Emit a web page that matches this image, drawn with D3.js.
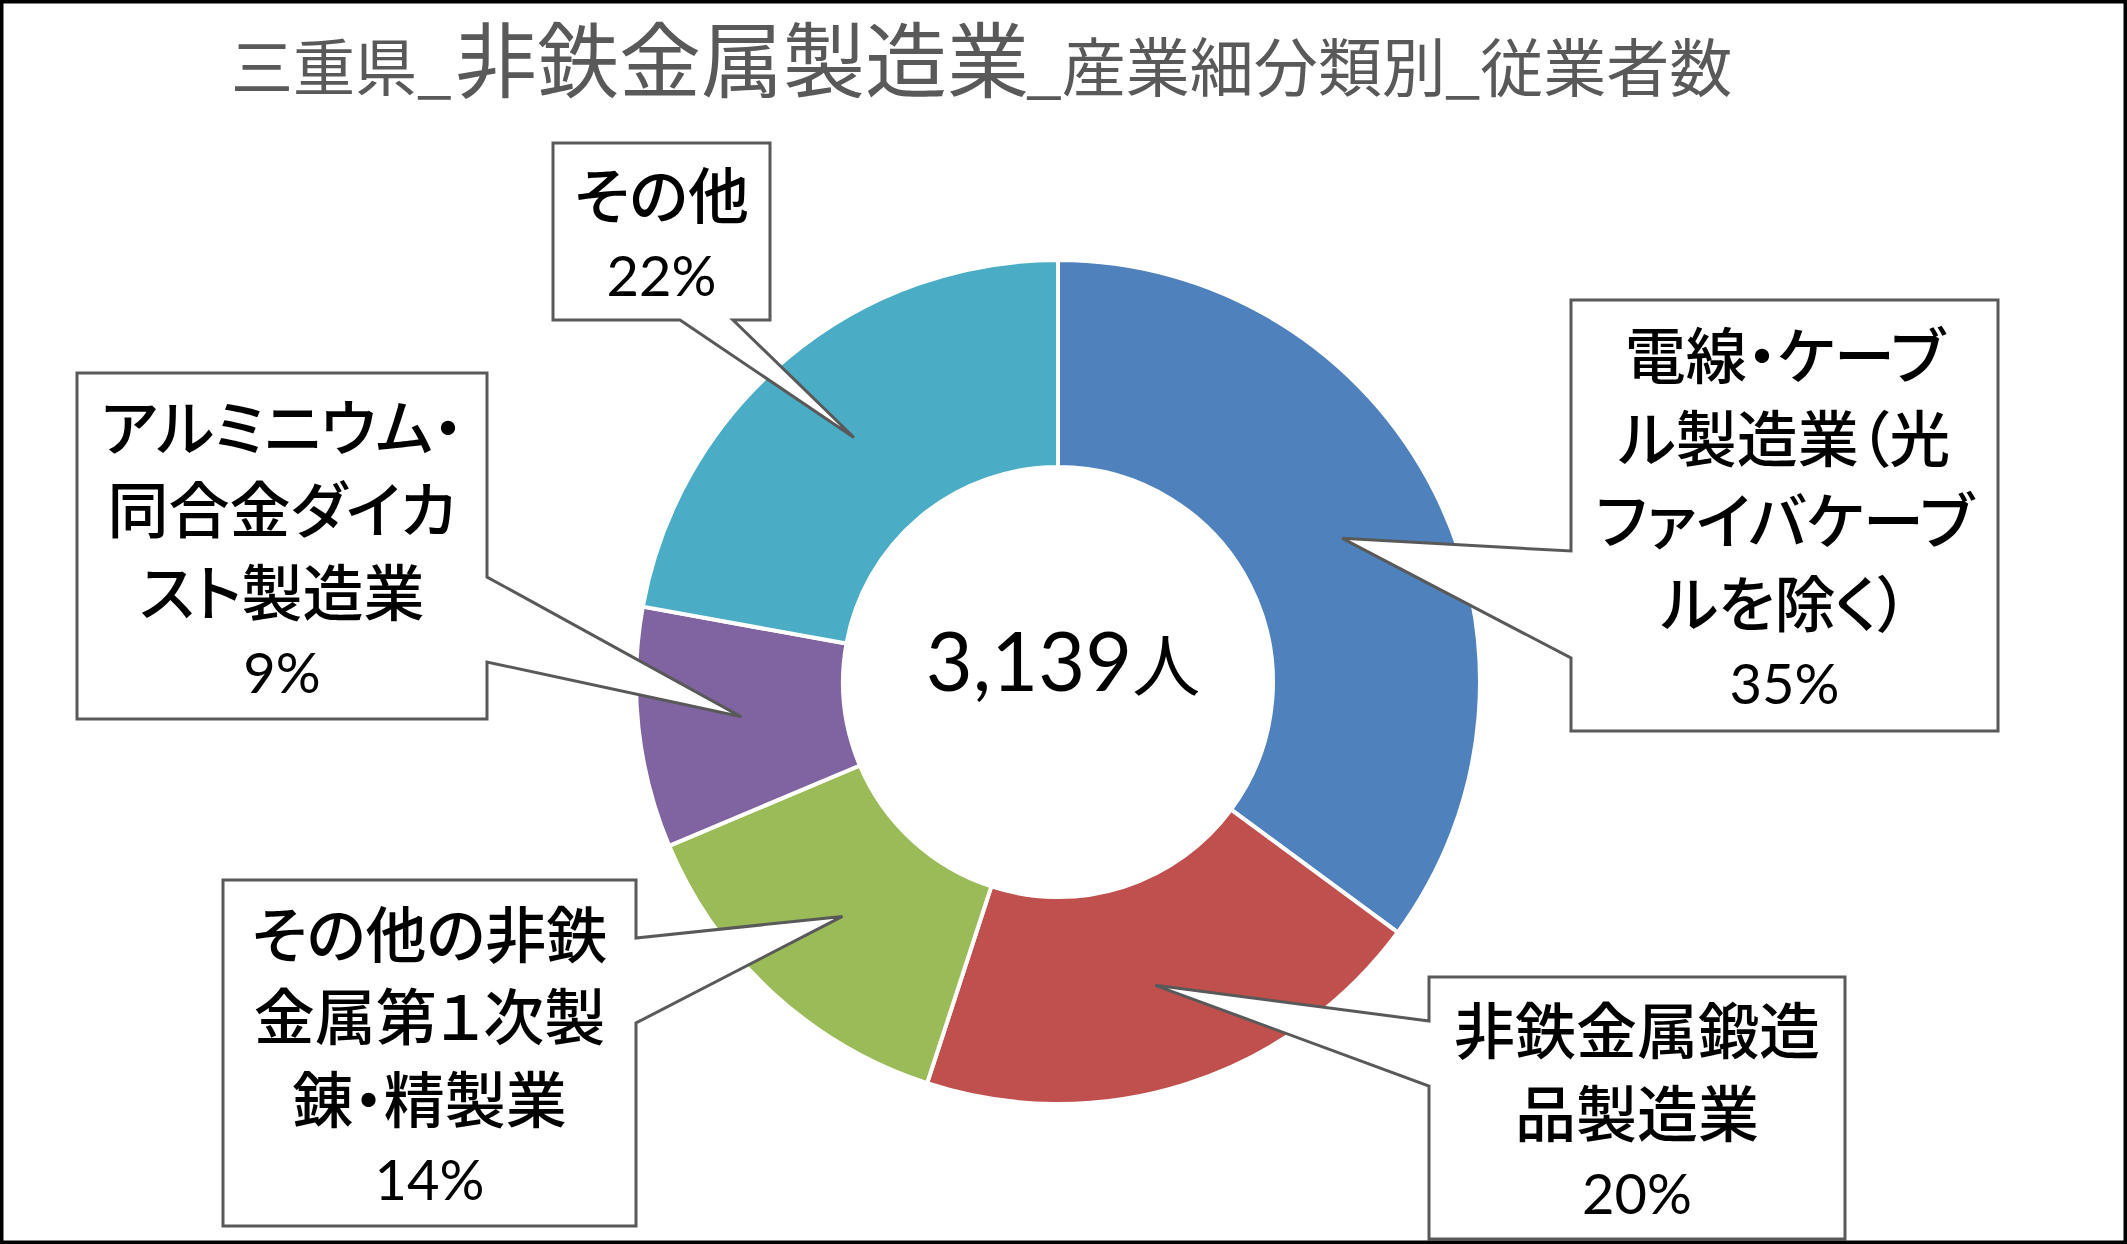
<!DOCTYPE html>
<html><head><meta charset="utf-8">
<script src="https://cdn.jsdelivr.net/npm/d3@7"></script>
<style>
html,body{margin:0;padding:0;background:#fff;}
svg{display:block;}
.jp{font-family:'Noto Sans CJK JP','Noto Sans CJK SC',sans-serif;font-feature-settings:"palt";}
.num{font-family:Lato,'Noto Sans CJK JP',sans-serif;}
</style>
</head><body>
<script>
// ---- data ----
const titleParts = ["三重県_", "非鉄金属製造業", "_産業細分類別", "_従業者数"];
const categories = [
  "電線・ケーブル製造業（光ファイバケーブルを除く）",
  "非鉄金属鍛造品製造業",
  "その他の非鉄金属第１次製錬・精製業",
  "アルミニウム・同合金ダイカスト製造業",
  "その他"
];
const labelLines = [
  ["電線・ケーブ", "ル製造業（光", "ファイバケーブ", "ルを除く）"],
  ["非鉄金属鍛造", "品製造業"],
  ["その他の非鉄", "金属第１次製", "錬・精製業"],
  ["アルミニウム・", "同合金ダイカ", "スト製造業"],
  ["その他"]
];
const values = [1102, 625, 428, 289, 695];
const colors = ["#4F81BD", "#C0504D", "#9BBB59", "#8064A2", "#4BACC6"];
const unit = "人";

// ---- layout (not data) ----
const W = 2127, H = 1244;
const cx = 1058, cy = 682, R = 422, r0 = 215;
const boxes = [
  {rect:[1571,300,1998,731], edge:"left",   base:[551,658]},
  {rect:[1429,977,1845,1239], edge:"left",  base:[1021,1086]},
  {rect:[223,880,636,1226],  edge:"right",  base:[938,1023]},
  {rect:[77,373,487,719],    edge:"right",  base:[577,662]},
  {rect:[553,143,770,320],   edge:"bottom", base:[680,733]}
];
const lineGap = 82.5;

const svg = d3.select("body").append("svg").attr("width", W).attr("height", H);
svg.append("rect").attr("width", W).attr("height", H).attr("fill", "#fff");

// title
const titleX = [231, 455, 1026, 1445];
const titleSize = [62, 82, 64, 63];
titleParts.forEach((t, i) => {
  svg.append("text").attr("class", "jp")
    .attr("x", titleX[i]).attr("y", 91)
    .attr("font-size", titleSize[i]).attr("fill", "#595959")
    .text(t);
});

// donut
const total = d3.sum(values);
const pie = d3.pie().sort(null).value(d => d).startAngle(0).endAngle(2 * Math.PI);
const arcs = pie(values);
const arc = d3.arc().innerRadius(r0).outerRadius(R);
const g = svg.append("g").attr("transform", `translate(${cx},${cy})`);
g.selectAll("path.slice").data(arcs).join("path")
  .attr("class", "slice")
  .attr("d", arc)
  .attr("fill", (d, i) => colors[i])
  .attr("stroke", "#fff").attr("stroke-width", 4).attr("stroke-linejoin", "round");

// center total
const fmt = d3.format(",");
const ct = svg.append("text").attr("x", cx + 5).attr("y", 691).attr("text-anchor", "middle");
ct.append("tspan").attr("class", "num").attr("font-size", 81).text(fmt(total));
ct.append("tspan").attr("class", "jp").attr("font-size", 68).text(unit);

// callouts
arcs.forEach((d, i) => {
  const b = boxes[i];
  const [x0, y0, x1, y1] = b.rect;
  const c = arc.centroid(d);
  const tip = [cx + c[0], cy + c[1]];
  let p;
  if (b.edge === "left") {
    p = [[x0, y0], [x1, y0], [x1, y1], [x0, y1], [x0, b.base[1]], tip, [x0, b.base[0]]];
  } else if (b.edge === "right") {
    p = [[x0, y0], [x1, y0], [x1, b.base[0]], tip, [x1, b.base[1]], [x1, y1], [x0, y1]];
  } else {
    p = [[x0, y0], [x1, y0], [x1, y1], [b.base[1], y1], tip, [b.base[0], y1], [x0, y1]];
  }
  svg.append("path")
    .attr("d", "M" + p.map(q => q.join(",")).join("L") + "Z")
    .attr("fill", "#fff").attr("stroke", "#595959").attr("stroke-width", 3)
    .attr("stroke-linejoin", "miter");

  const lines = labelLines[i];
  const n = lines.length + 1;
  const mx = (x0 + x1) / 2, my = (y0 + y1) / 2 + 2;
  const first = my - (n - 1) * lineGap / 2;
  lines.forEach((s, k) => {
    svg.append("text").attr("class", "jp")
      .attr("x", mx).attr("y", first + k * lineGap)
      .attr("text-anchor", "middle").attr("dominant-baseline", "central")
      .attr("font-size", 61).attr("font-weight", 500).attr("fill", "#000").text(s);
  });
  svg.append("text").attr("class", "num")
    .attr("x", mx).attr("y", first + lines.length * lineGap)
    .attr("text-anchor", "middle").attr("dominant-baseline", "central")
    .attr("font-size", 56).attr("fill", "#000")
    .text(Math.round(d.value / total * 100) + "%");
});

// outer frame
svg.append("rect").attr("x", 1.75).attr("y", 1.75)
  .attr("width", W - 3.5).attr("height", H - 3.5)
  .attr("fill", "none").attr("stroke", "#000").attr("stroke-width", 3.5);
</script>
</body></html>
